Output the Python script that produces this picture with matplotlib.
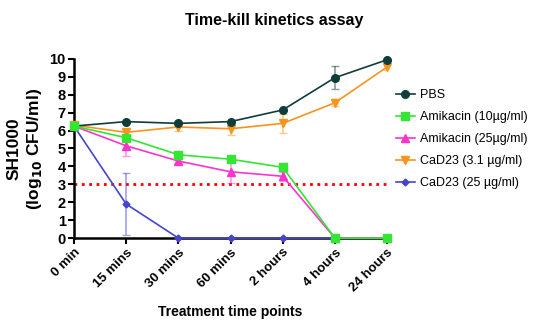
import numpy as np
import matplotlib.pyplot as plt

plt.rcParams['font.family'] = ['Liberation Sans', 'DejaVu Sans']

time_labels = ["0 min", "15 mins", "30 mins", "60 mins", "2 hours", "4 hours", "24 hours"]

pbs = [6.25, 6.5, 6.4, 6.5, 7.15, 8.95, 9.95]
pbs_err = [0.0, 0.0, 0.0, 0.0, 0.0, 0.65, 0.0]
ami10 = [6.25, 5.6, 4.65, 4.4, 3.95, 0.0, 0.0]
ami10_err = [0.0, 0.1, 0.1, 0.1, 0.2, 0.0, 0.0]
ami25 = [6.25, 5.15, 4.3, 3.7, 3.45, 0.0, 0.0]
ami25_err = [0.0, 0.55, 0.1, 0.6, 0.25, 0.0, 0.0]
cad31 = [6.3, 5.9, 6.2, 6.1, 6.4, 7.55, 9.55]
cad31_err = [0.0, 0.1, 0.2, 0.35, 0.55, 0.2, 0.15]
cad25 = [6.25, 1.9, 0.0, 0.0, 0.0, 0.0, 0.0]
cad25_err = [0.0, 1.75, 0.0, 0.0, 0.0, 0.0, 0.0]

detection_limit = 3

# label, values, errors, colour, marker, size, zorder
series = [
    ("PBS", pbs, pbs_err, "#0f3d3a", "o", 5.5, 4),
    ("Amikacin (10µg/ml)", ami10, ami10_err, "#33e633", "s", 5.5, 6),
    ("Amikacin (25µg/ml)", ami25, ami25_err, "#ff33cc", "^", 5.5, 5),
    ("CaD23 (3.1 µg/ml)", cad31, cad31_err, "#f7941d", "v", 5.5, 3),
    ("CaD23 (25 µg/ml)", cad25, cad25_err, "#4545cc", "D", 3.5, 4.5),
]

fig = plt.figure(figsize=(5.38, 3.2), dpi=100)
ax = fig.add_axes([0.1375, 0.256, 0.582, 0.56])
x = np.arange(len(time_labels))

ax.plot([0, len(time_labels) - 1], [detection_limit, detection_limit], ":",
        color="red", linewidth=2, zorder=1)

for label, vals, err, col, mk, ms, z in series:
    err = np.array(err)
    keep = err > 0
    if keep.any():
        ax.errorbar(x[keep], np.array(vals)[keep], yerr=err[keep], fmt="none",
                    ecolor=col, elinewidth=1.2, capsize=3, alpha=0.5, zorder=2)
    ax.plot(x, vals, color=col, marker=mk, markersize=ms, linewidth=1.2,
            label=label, zorder=z, clip_on=False)

ax.set_xlim(0, len(time_labels) - 1)
ax.set_ylim(0, 10)
ax.set_yticks(range(0, 11))
ax.set_xticks(x)
ax.set_xticklabels(time_labels, rotation=45, ha="right", rotation_mode="anchor",
                   fontweight="bold", fontsize=9.5)
for t in ax.get_yticklabels():
    t.set_fontweight("bold")
    t.set_fontsize(10.5)
ax.tick_params(axis="both", width=1.5, length=4, direction="out", pad=2)
for s in ["top", "right"]:
    ax.spines[s].set_visible(False)
for s in ["left", "bottom"]:
    ax.spines[s].set_linewidth(1.8)

fig.text(0.51, 0.935, "Time-kill kinetics assay", fontweight="bold", fontsize=11.5,
         ha="center", va="center")
ax.set_xlabel("Treatment time points", fontweight="bold", fontsize=10, labelpad=8)
ax.set_ylabel("SH1000\n(log$_{\\mathbf{10}}$ CFU/ml)", fontweight="bold", fontsize=12.5,
              labelpad=4)

ax.legend(loc="upper left", bbox_to_anchor=(1.0, 0.88), frameon=False,
          fontsize=9.0, handlelength=1.5, handletextpad=0.45, labelspacing=0.8,
          borderaxespad=0.3)

fig.savefig("out.png", dpi=100)
